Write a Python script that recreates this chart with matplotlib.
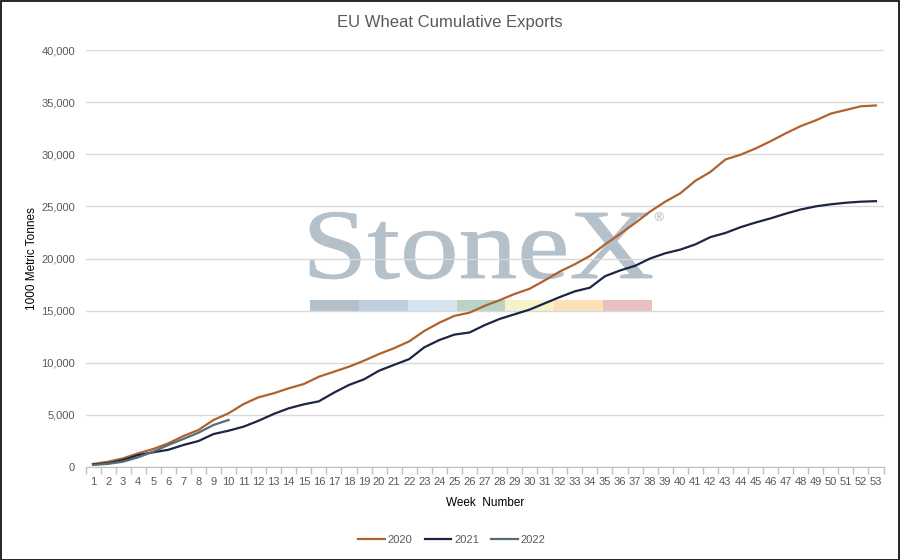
import matplotlib
matplotlib.use("Agg")
import numpy as np
import matplotlib.pyplot as plt
from matplotlib.patches import Rectangle, PathPatch
from matplotlib.textpath import TextPath
from matplotlib.font_manager import FontProperties
from matplotlib.transforms import Affine2D, IdentityTransform
from matplotlib.ticker import FuncFormatter, MultipleLocator

weeks = list(range(1, 54))

exports_2020 = [290, 510, 830, 1310, 1730, 2270, 2970, 3550, 4510, 5150,
                6040, 6690, 7070, 7550, 7960, 8660, 9140, 9620, 10200, 10840,
                11400, 12050, 13050, 13840, 14500, 14800, 15450, 16000, 16600, 17100,
                17900, 18750, 19450, 20250, 21350, 22350, 23400, 24500, 25450, 26250,
                27450, 28300, 29500, 29950, 30550, 31250, 32000, 32700, 33250, 33900,
                34250, 34600, 34680]

exports_2021 = [250, 350, 670, 1150, 1410, 1650, 2110, 2490, 3160, 3480,
                3870, 4440, 5090, 5630, 6010, 6300, 7130, 7870, 8410, 9240,
                9800, 10350, 11480, 12180, 12700, 12900, 13600, 14200, 14650, 15100,
                15700, 16300, 16850, 17200, 18300, 18850, 19300, 20000, 20500, 20850,
                21350, 22050, 22450, 23000, 23450, 23850, 24300, 24700, 25000, 25200,
                25350, 25450, 25500]

weeks_2022 = list(range(1, 11))
exports_2022 = [200, 300, 510, 930, 1470, 2110, 2690, 3290, 4030, 4510]

series = [("2020", weeks, exports_2020, "#b0622c"),
          ("2021", weeks, exports_2021, "#1d2547"),
          ("2022", weeks_2022, exports_2022, "#566c77")]

title = "EU Wheat Cumulative Exports"
ylabel = "1000 Metric Tonnes"
xlabel = "Week  Number"

plt.rcParams['font.family'] = ['Liberation Sans', 'DejaVu Sans']

fig = plt.figure(figsize=(9, 5.6), dpi=100)
W, H = 900, 560
ax = fig.add_axes([85.5 / W, 1 - 467 / H, (883.5 - 85.5) / W, (467 - 50) / H])
ax.set_facecolor("none")


def poly_extent(path):
    pts = np.concatenate(path.to_polygons(closed_only=False))
    return pts[:, 0].min(), pts[:, 0].max(), pts[:, 1].min(), pts[:, 1].max()


# watermark logo (stretched serif text), drawn behind the axes
fp = FontProperties(family="Liberation Serif")
tp = TextPath((0, 0), "StoneX", size=100, prop=fp)
x0, x1, _, _ = poly_extent(tp)
cap = poly_extent(TextPath((0, 0), "X", size=100, prop=fp))[3]
sx = (652 - 310) / (x1 - x0)
sy = (278 - 213) / cap
logo_tr = Affine2D().translate(-x0, 0).scale(sx, sy).translate(310, H - 278)
fig.add_artist(PathPatch(logo_tr.transform_path(tp), transform=IdentityTransform(),
                         facecolor="#b4c0ca", edgecolor="#b4c0ca", lw=0.6, zorder=-2))
fig.add_artist(fig.text(658 / W, 1 - 218 / H, "®", family="DejaVu Sans", fontsize=9,
                        color="#c6ced5", ha="center", va="center", zorder=-2))
strip = ["#b3c0ca", "#bfcddf", "#d6e5ef", "#b9d3c5", "#f6f2c9", "#fbe2b6", "#e9bfc1"]
seg = (652 - 310) / len(strip)
for i, c in enumerate(strip):
    fig.add_artist(Rectangle(((310 + i * seg) / W, 1 - 312 / H), seg / W, 12 / H,
                             transform=fig.transFigure, color=c, lw=0, zorder=-2))

for name, xs, ys, col in series:
    ax.plot(xs, ys, color=col, lw=1.6, label=name, zorder=3)

ax.set_xlim(0.5, 53.5)
ax.set_ylim(0, 40000)
ax.yaxis.set_major_locator(MultipleLocator(5000))
ax.yaxis.set_major_formatter(FuncFormatter(lambda v, p: f"{int(v):,}"))
ax.grid(axis="y", color="#d9d9d9", lw=1, zorder=1)
ax.set_axisbelow(True)
ax.set_xticks(weeks)
ax.set_xticks([w - 0.5 for w in weeks] + [53.5], minor=True)
ax.tick_params(axis="x", which="major", length=0, pad=7, labelsize=8, labelcolor="#595959")
ax.tick_params(axis="x", which="minor", length=5, color="#bfbfbf", width=1)
ax.tick_params(axis="y", length=0, pad=7.5, labelsize=8, labelcolor="#595959")
for s in ["top", "right", "left"]:
    ax.spines[s].set_visible(False)
ax.spines["bottom"].set_color("#bfbfbf")

fig.text(450 / W, 1 - 22 / H, title, fontsize=12, color="#595959", ha="center", va="center")
fig.text(32 / W, 1 - 259 / H, ylabel, fontsize=8.5, color="#000000", rotation=90,
         ha="center", va="center")
fig.text(485 / W, 1 - 503 / H, xlabel, fontsize=8.5, color="#000000", ha="center", va="center")

leg = fig.legend(loc="center", bbox_to_anchor=(452 / W, 1 - 540 / H), ncol=3, frameon=False,
                 fontsize=8, handlelength=2.4, columnspacing=1.1, handletextpad=0.25)
for t in leg.get_texts():
    t.set_color("#595959")

fig.add_artist(Rectangle((0.5 / W, 0.5 / H), 898.5 / W, 558.5 / H, transform=fig.transFigure,
                         fill=False, edgecolor="black", lw=1.2, zorder=10))

fig.savefig("out.png", dpi=100)
